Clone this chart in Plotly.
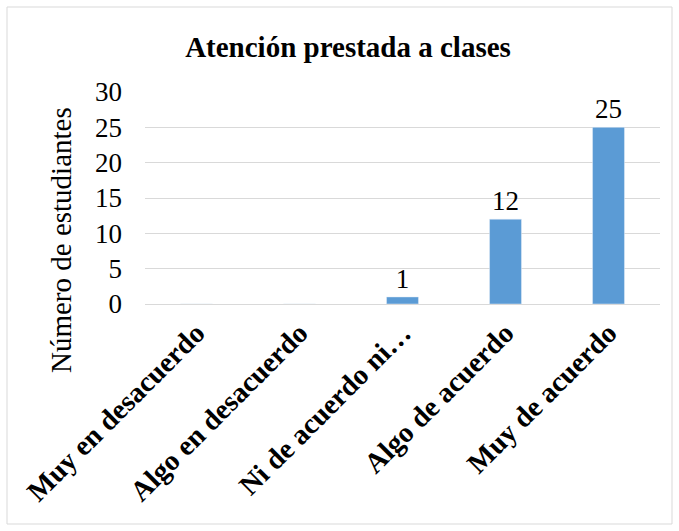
import plotly.graph_objects as go

categories = ["Muy en desacuerdo", "Algo en desacuerdo", "Ni de acuerdo ni…", "Algo de acuerdo", "Muy de acuerdo"]
values = [0, 0, 1, 12, 25]
labels = ["", "", "1", "12", "25"]
yticks = [0, 5, 10, 15, 20, 25, 30]

W, H = 679, 531
L, R, T, B = 145, 19, 92, 227
pw, ph = W - L - R, H - T - B

def px(x):
    return (x - L) / pw

def py(y):
    return (H - B - y) / ph

font = "Liberation Serif"

fig = go.Figure(go.Bar(
    x=categories, y=values, text=labels, textposition="outside",
    textfont=dict(family=font, size=27, color="#000000"),
    marker=dict(color="#5b9bd5"), width=0.31, cliponaxis=False,
))

fig.update_layout(
    width=W, height=H, margin=dict(l=L, r=R, t=T, b=B),
    paper_bgcolor="white", plot_bgcolor="white", showlegend=False,
    title=dict(text="<b>Atención prestada a clases</b>", x=348 / W, xref="container",
               y=1 - 47 / H, yref="container", xanchor="center", yanchor="middle",
               font=dict(family=font, size=29, color="#000000")),
    xaxis=dict(tickangle=-45, tickfont=dict(family=font, size=28.5, color="#000000"),
               showline=True, linecolor="#d9d9d9", linewidth=1, ticks="", showgrid=False),
    yaxis=dict(range=[0, 30], tickvals=yticks, ticks="", showline=False,
               gridcolor="#d9d9d9", gridwidth=1, zeroline=False, ticklabelstandoff=22,
               tickfont=dict(family=font, size=27, color="#000000")),
    shapes=[dict(type="rect", xref="paper", yref="paper",
                 x0=px(7), x1=px(672), y0=py(524), y1=py(7),
                 line=dict(color="#d9d9d9", width=1), layer="below")],
    annotations=[dict(text="Número de estudiantes", textangle=-90, xref="paper", yref="paper",
                      x=px(61), y=py(240), xanchor="center", yanchor="middle", showarrow=False,
                      font=dict(family=font, size=29, color="#000000"))],
)

fig.for_each_xaxis(lambda a: a.update(tickprefix="<b>", ticksuffix="</b>"))

fig.write_html("out.html")
